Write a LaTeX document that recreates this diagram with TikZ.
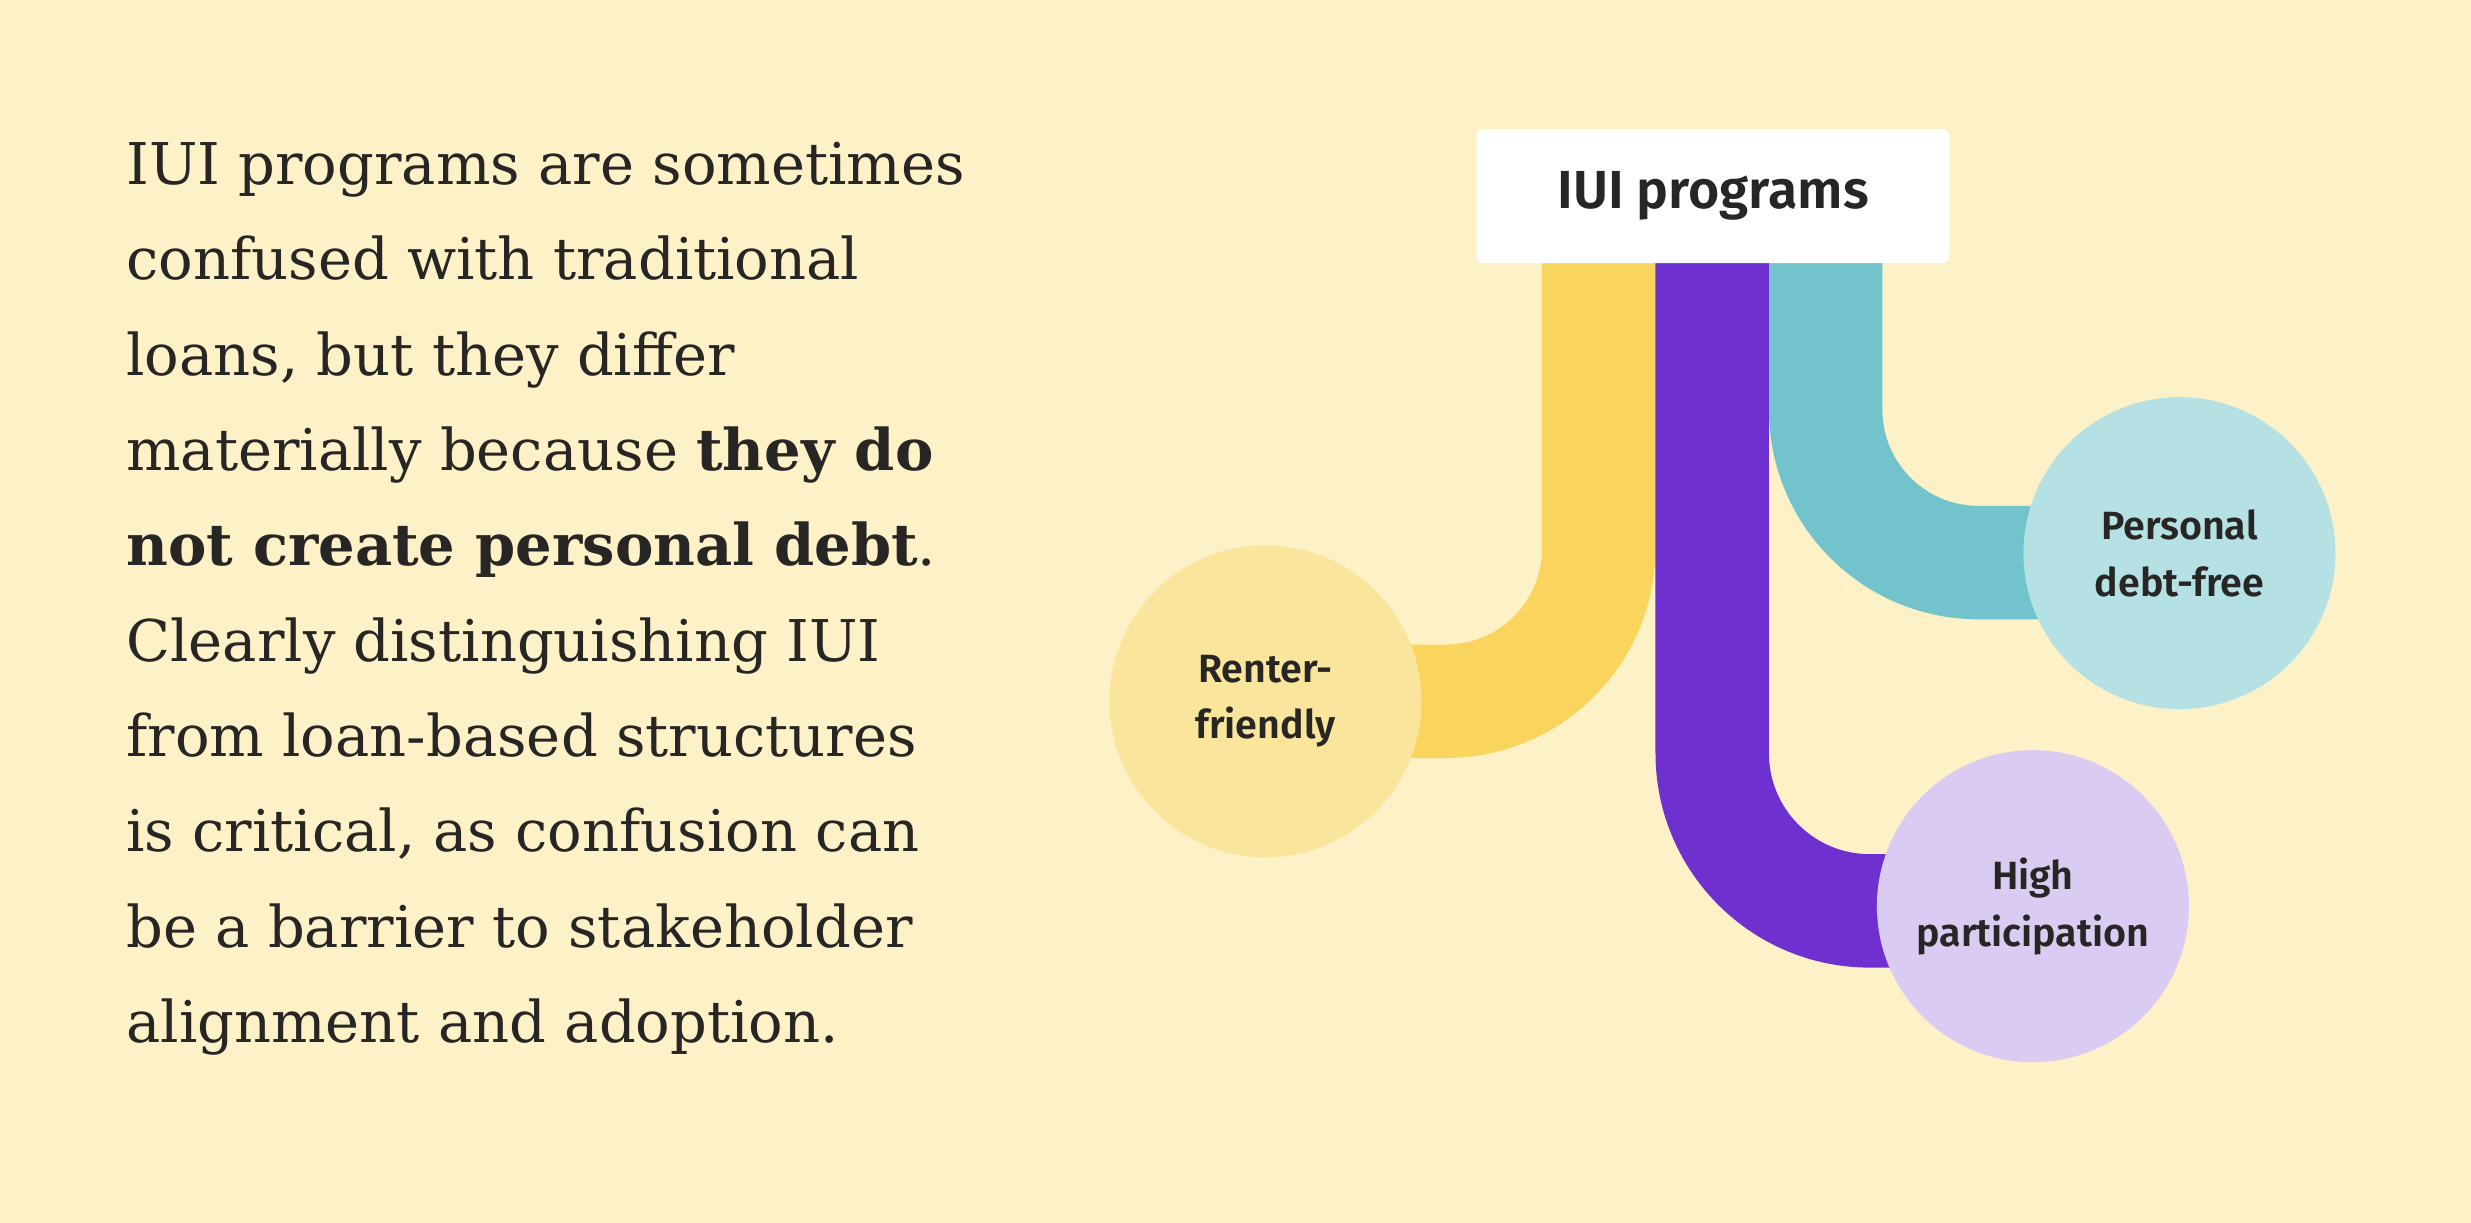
\documentclass[tikz,border=0pt]{standalone}
\usepackage{fontspec}
\setmainfont{DejaVu Serif}
\setsansfont{Fira Sans}[BoldFont={Fira Sans SemiBold}]
\usetikzlibrary{positioning}
\definecolor{colorback}   {RGB}{253,241,200}
\definecolor{colortext}   {RGB}{40 ,38 ,36 }
\definecolor{coloryellow} {RGB}{249,213,94 }
\definecolor{colorpurple} {RGB}{110,49 ,207}
\definecolor{colorteal}   {RGB}{114,195,203}
\definecolor{lightyellow} {RGB}{249,229,155}
\definecolor{lightpurple} {RGB}{218,203,242}
\definecolor{lightteal}   {RGB}{181,225,229}

\begin{document}
\begin{tikzpicture}[
    x=1pt, y=-1pt,
    body/.style={text=colortext,font={\fontsize{36.5}{60.5}\selectfont},align=left,anchor=north west,inner sep=0pt},
    label/.style={text=colortext,font={\sffamily\bfseries\fontsize{25}{36}\selectfont},align=center},
    band/.style={line width=72pt,rounded corners=97pt},
    bubble/.style={circle,minimum size=198pt,inner sep=0pt},
]

    \fill[colorback] (0,0) rectangle (1568,776);

    \node[body] (para) at (80,90) {IUI programs are sometimes\\
    confused with traditional\\
    loans, but they differ\\
    materially because \textbf{they do}\\
    \textbf{not create personal debt}.\\
    Clearly distinguishing IUI\\
    from loan-based structures\\
    is critical, as confusion can\\
    be a barrier to stakeholder\\
    alignment and adoption.};

    \draw[band,coloryellow] (1014.5,160) -- (1014.5,445) -- (800,445);
    \draw[band,colorteal] (1158.5,160) -- (1158.5,357) -- (1383,357);
    \draw[band,colorpurple,rounded corners=100pt] (1086.5,160) -- (1086.5,578) -- (1290,578);

    \node[fill=white,rounded corners=4pt,minimum width=300pt,minimum height=85pt,
        font={\sffamily\bfseries\fontsize{34}{40}\selectfont},text=colortext] (root) at (1087,124.5) {IUI programs};

    \node[bubble,fill=lightyellow,label] (renter) at (803,445) {Renter-\\friendly};
    \node[bubble,fill=lightteal,label] (debtfree) at (1383,351) {Personal\\debt-free};
    \node[bubble,fill=lightpurple,label] (participation) at (1290,575) {High\\participation};

\end{tikzpicture}
\end{document}
